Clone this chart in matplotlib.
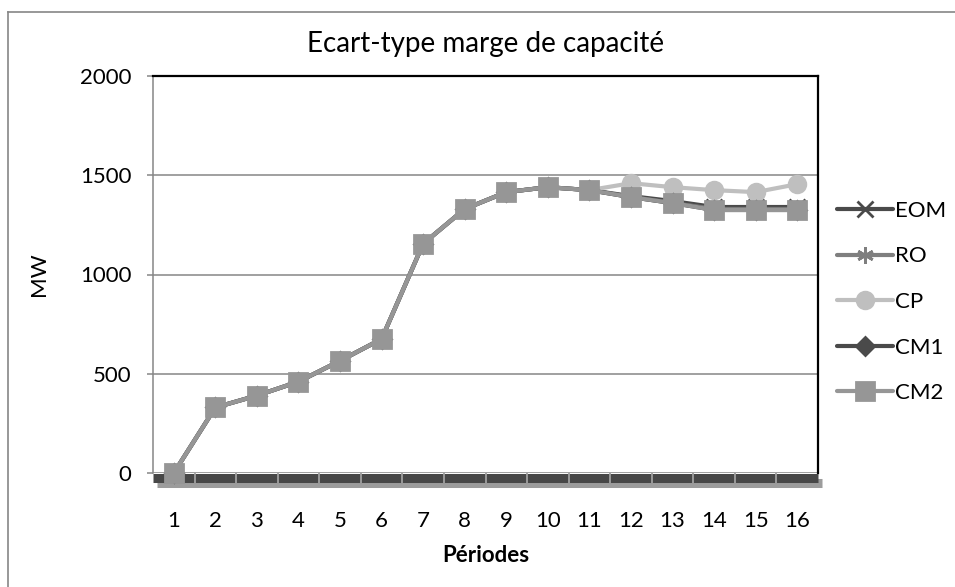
import matplotlib
matplotlib.use('Agg')
import matplotlib.pyplot as plt
import matplotlib.patheffects as pe
from matplotlib.lines import Line2D
from matplotlib.ticker import FixedLocator

plt.rcParams['font.family'] = ['Lato', 'DejaVu Sans']

periods = list(range(1, 17))
eom = [0, 330, 390, 460, 565, 675, 1155, 1330, 1415, 1440, 1425, 1395, 1370, 1340, 1340, 1340]
ro = [0, 330, 390, 460, 565, 675, 1155, 1330, 1415, 1440, 1425, 1390, 1360, 1330, 1330, 1330]
cp = [0, 330, 390, 460, 565, 675, 1155, 1330, 1415, 1440, 1425, 1460, 1440, 1425, 1415, 1455]
cm1 = [0, 330, 390, 460, 565, 675, 1155, 1330, 1415, 1440, 1425, 1390, 1360, 1325, 1325, 1325]
cm2 = [0, 330, 390, 460, 565, 675, 1155, 1330, 1415, 1440, 1425, 1390, 1360, 1325, 1325, 1325]

series = [
    ('EOM', eom, '#4a4a4a', 'x', 11),
    ('RO', ro, '#7f7f7f', (6, 2, 0), 12),
    ('CP', cp, '#bfbfbf', 'o', 12),
    ('CM1', cm1, '#4a4a4a', 'D', 9),
    ('CM2', cm2, '#969696', 's', 13),
]

fig = plt.figure(figsize=(9.55, 5.87), dpi=100)
ax = fig.add_axes([153 / 955, 1 - 473 / 587, (818 - 153) / 955, (473 - 76) / 587])

for name, vals, col, mk, ms in series:
    ax.plot(periods, vals, color=col, lw=3, marker=mk, markersize=ms,
            markerfacecolor=col, markeredgecolor=col, markeredgewidth=2,
            solid_capstyle='round', label=name, zorder=3, clip_on=False)

ax.set_xlim(0.5, 16.5)
ax.set_ylim(0, 2000)
ax.set_yticks([0, 500, 1000, 1500, 2000])
ax.set_xticks(periods)
ax.xaxis.set_minor_locator(FixedLocator([p + 0.5 for p in periods[:-1]]))

# grid lines
ax.yaxis.grid(True, color='#868686', lw=1.1)
ax.yaxis.set_zorder(1)
ax.xaxis.set_zorder(2.6)  # separators drawn on top of the floor band

# plot frame: gray left axis, black top/right, thick shadowed floor
ax.spines['left'].set_color('#868686')
ax.spines['left'].set_linewidth(1.1)
ax.spines['top'].set_color('black')
ax.spines['top'].set_linewidth(1.6)
ax.spines['right'].set_color('black')
ax.spines['right'].set_linewidth(1.6)
bottom = ax.spines['bottom']
bottom.set_position(('outward', 3.5))
bottom.set_color('#474747')
bottom.set_linewidth(6.5)
bottom.set_capstyle('butt')
bottom.set_path_effects([pe.SimpleLineShadow(offset=(3, -3.5), shadow_color='#9c9c9c', alpha=1),
                         pe.Normal()])

ax.tick_params(axis='y', direction='out', length=4.5, width=1.1, color='#868686',
               labelsize=16, pad=11)
ax.tick_params(axis='x', which='major', length=0, labelsize=16, pad=24)
ax.tick_params(axis='x', which='minor', direction='inout', length=6.5, width=1.3,
               color='#a0a0a0')

ax.set_title('Ecart-type marge de capacité', fontsize=20, pad=17)
ax.set_ylabel('MW', fontsize=16, labelpad=22)
ax.set_xlabel('Périodes', fontsize=16, fontweight='bold', labelpad=10)

ax.legend(loc='center left', bbox_to_anchor=(826 / 955, 1 - 302 / 587),
          bbox_transform=fig.transFigure, frameon=False, fontsize=16,
          handlelength=2.5, handletextpad=0.1, labelspacing=1.15, borderpad=0)

# outer chart border
fig.add_artist(Line2D([8 / 955, 8 / 955], [0, 1 - 12 / 587], transform=fig.transFigure,
                      color='#868686', lw=1.2))
fig.add_artist(Line2D([8 / 955, 1], [1 - 12 / 587, 1 - 12 / 587], transform=fig.transFigure,
                      color='#868686', lw=1.2))

fig.savefig('out.png', dpi=100)
